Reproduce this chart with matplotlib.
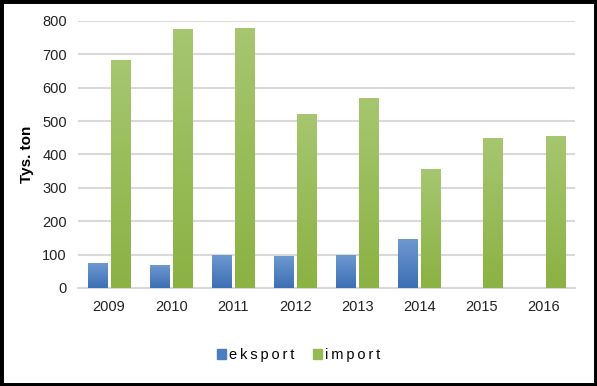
import matplotlib.pyplot as plt
import matplotlib.colors as mcolors
import numpy as np
from matplotlib.patches import Rectangle

years = ['2009', '2010', '2011', '2012', '2013', '2014', '2015', '2016']
eksport = [72, 66, 96, 93, 96, 144, 0, 0]
imp = [683, 776, 779, 521, 569, 356, 449, 455]
labels = ['eksport', 'import']

plt.rcParams['font.family'] = ['Liberation Sans', 'DejaVu Sans']

fig = plt.figure(figsize=(5.97, 3.86), dpi=100)
ax = fig.add_axes([0.1307, 0.254, 0.8325, 0.6916])

x = np.arange(len(years))
w = 0.32
b1 = ax.bar(x - 0.185, eksport, w, color='#4a7ebf', zorder=3)
b2 = ax.bar(x + 0.185, imp, w, color='#94bb50', zorder=3)

# excel-like vertical gradient on the bars
def grad(bars, top, bot):
  cm = mcolors.LinearSegmentedColormap.from_list('g', [bot, top])
  g = np.linspace(0, 1, 64).reshape(-1, 1)
  for p in bars:
    if p.get_height() <= 0:
      continue
    x0, y0 = p.get_x(), p.get_y()
    ax.imshow(g, cmap=cm, origin='lower', aspect='auto', zorder=3,
              extent=[x0, x0 + p.get_width(), y0, y0 + p.get_height()])
    p.set_facecolor('none')

grad(b1, '#6e98d0', '#3d6fb5')
grad(b2, '#a6c66f', '#8bb243')

ax.set_xlim(-0.5, len(years) - 0.5)
ax.set_ylim(0, 800)
ax.set_yticks(range(0, 801, 100))
ax.set_xticks(x)
ax.set_xticklabels(years)
ax.grid(axis='y', color='#d9d9d9', linewidth=1.5, zorder=0)
for s in ['top', 'right', 'left']:
  ax.spines[s].set_visible(False)
ax.spines['bottom'].set_color('#d9d9d9')
ax.spines['bottom'].set_linewidth(1.5)
ax.tick_params(length=0, labelsize=10.5, colors='#222222')
ax.tick_params(axis='x', pad=9)
ax.tick_params(axis='y', pad=8)
ax.set_ylabel('Tys. ton', fontsize=11, fontweight='bold', labelpad=6)

# spaced-out legend text like the excel original
spaced = ['\u2009'.join(s) for s in labels]
h1 = Rectangle((0, 0), 1, 1, color='#4a7ebf')
h2 = Rectangle((0, 0), 1, 1, color='#94bb50')
fig.legend([h1, h2], spaced, loc='center',
           bbox_to_anchor=(0.5, 0.08), ncol=2, frameon=False, fontsize=10.5,
           handlelength=0.6, handleheight=0.6, handletextpad=0.2, columnspacing=1.3)

fig.add_artist(Rectangle((0, 0), 1, 1, transform=fig.transFigure, fill=False,
                         edgecolor='black', linewidth=5))

plt.savefig('out.png', dpi=100)
